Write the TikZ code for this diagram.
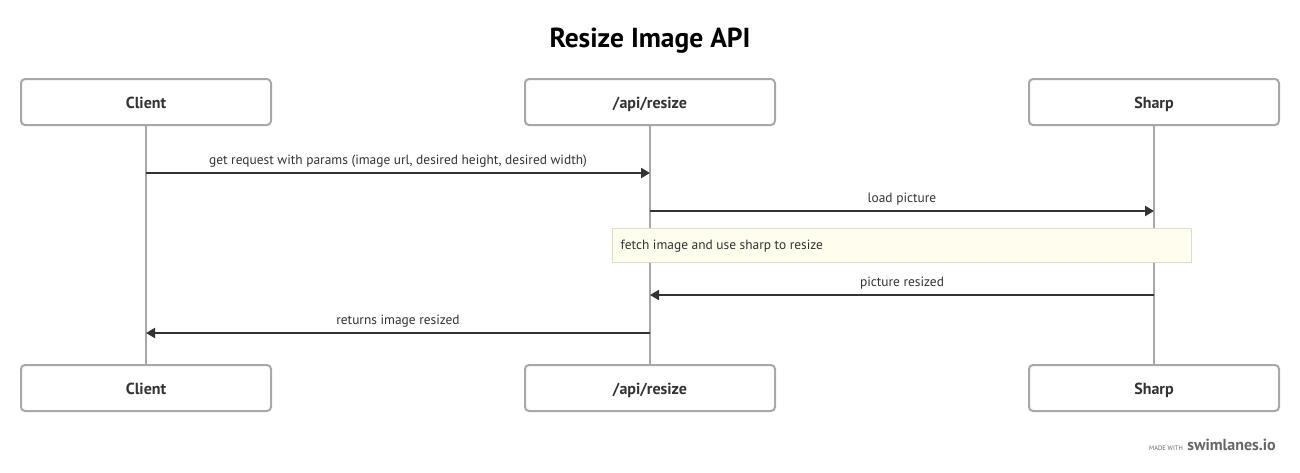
\documentclass[tikz,border=0pt]{standalone}
\usepackage{fontspec}
\setmainfont{PT Sans}
\usetikzlibrary{arrows.meta}
\definecolor{boxgray}{HTML}{A8A8A8}
\definecolor{txt}{HTML}{333333}
\definecolor{notefill}{HTML}{FFFDEE}
\definecolor{notedraw}{HTML}{DDDDC8}
\definecolor{wm}{HTML}{666666}
\tikzset{
  actor/.style={draw=boxgray, line width=2pt, rounded corners=4pt, fill=white,
    minimum width=250pt, minimum height=46pt, inner sep=0pt,
    text height=13pt, text depth=0pt,
    font=\fontsize{16}{18}\selectfont\bfseries, text=txt},
  life/.style={draw=boxgray, line width=2pt},
  msg/.style={draw=txt, line width=2pt, -{Triangle[length=9pt,width=10pt]}},
  lbl/.style={font=\fontsize{13.4}{15}\selectfont, text=txt, inner sep=0pt,
    text height=9pt, text depth=3pt},
  note/.style={draw=notedraw, line width=1pt, fill=notefill, minimum width=579pt,
    minimum height=34pt, inner sep=0pt},
}
\begin{document}
\begin{tikzpicture}[x=1pt,y=-1pt]
\useasboundingbox (0,0) rectangle (1300,472);
\fill[white] (0,0) rectangle (1300,472);
\node[font=\fontsize{27.5}{30}\selectfont\bfseries, text=black] (title) at (650,40.5) {Resize Image API};
% top actors
\node[actor] (ct) at (146,102) {Client};
\node[actor] (at) at (650,102) {/api/resize};
\node[actor] (st) at (1154,102) {Sharp};
% bottom actors
\node[actor] (cb) at (146,388) {Client};
\node[actor] (ab) at (650,388) {/api/resize};
\node[actor] (sb) at (1154,388) {Sharp};
% lifelines
\draw[life] (ct.south) -- (cb.north);
\draw[life] (at.south) -- (ab.north);
\draw[life] (st.south) -- (sb.north);
% message coordinates
\coordinate (c1) at (146,173); \coordinate (a1) at (650,173);
\coordinate (a2) at (650,211); \coordinate (s2) at (1154,211);
\coordinate (s4) at (1154,295); \coordinate (a4) at (650,295);
\coordinate (a5) at (650,333); \coordinate (c5) at (146,333);
\draw[msg] (c1) -- (a1) node[lbl, midway, above=5pt] {get request with params (image url, desired height, desired width)};
\draw[msg] (a2) -- (s2) node[lbl, midway, above=5pt] {load picture};
\node[note] (n1) at (901.5,245) {};
\node[lbl, anchor=west] (n1t) at ([xshift=9pt,yshift=-1pt]n1.west) {fetch image and use sharp to resize};
\draw[msg] (s4) -- (a4) node[lbl, midway, above=5pt] {picture resized};
\draw[msg] (a5) -- (c5) node[lbl, midway, above=5pt] {returns image resized};
% watermark
\node[anchor=base east, inner sep=0pt, text=wm, font=\fontsize{16}{18}\selectfont\bfseries] (wm2) at (1276,450) {swimlanes.io};
\node[anchor=base east, inner sep=0pt, text=wm, font=\fontsize{6.5}{8}\selectfont] (wm1) at ([xshift=-4pt]wm2.base west) {MADE WITH};
\end{tikzpicture}
\end{document}
